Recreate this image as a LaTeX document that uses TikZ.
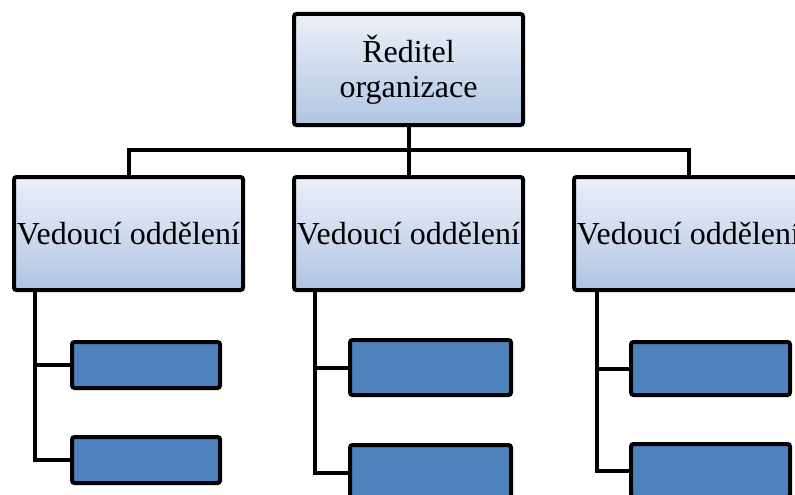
\documentclass[tikz,border=0pt]{standalone}
\usepackage{fontspec}
\setmainfont{Liberation Serif}
\definecolor{headtop}{RGB}{236,240,248}
\definecolor{headbot}{RGB}{176,197,226}
\definecolor{leafblue}{RGB}{79,129,189}
\tikzset{
  headbox/.style={draw=black, line width=4pt, rounded corners=2.5pt,
    top color=headtop, bottom color=headbot, inner sep=0pt,
    minimum width=229pt, align=center,
    font=\fontsize{32}{35}\selectfont},
  leafbox/.style={draw=black, line width=4pt, rounded corners=2.5pt,
    fill=leafblue, inner sep=0pt},
  link/.style={draw=black, line width=4pt}
}
\begin{document}
\begin{tikzpicture}[x=1pt, y=-1pt]
  \useasboundingbox (0,0) rectangle (795,495);
  \clip (0,0) rectangle (795,495);
  % director and department heads
  \node[headbox, minimum height=111pt] (top) at (408.5,69.5) {Ředitel\\organizace};
  \node[headbox, minimum height=113pt] (m1) at (128.5,233.5) {Vedoucí oddělení};
  \node[headbox, minimum height=113pt] (m2) at (408.5,233.5) {Vedoucí oddělení};
  \node[headbox, minimum height=113pt] (m3) at (688.5,233.5) {Vedoucí oddělení};
  % staff boxes
  \node[leafbox, minimum width=148pt, minimum height=46pt] (a1) at (146,365) {};
  \node[leafbox, minimum width=148pt, minimum height=46pt] (a2) at (146,460) {};
  \node[leafbox, minimum width=161pt, minimum height=55pt] (b1) at (430.5,367.5) {};
  \node[leafbox, minimum width=161pt, minimum height=55pt] (b2) at (430.5,472.5) {};
  \node[leafbox, minimum width=159pt, minimum height=53pt] (c1) at (710.5,368.5) {};
  \node[leafbox, minimum width=159pt, minimum height=53pt] (c2) at (710.5,470.5) {};
  % bus below the director
  \coordinate (bus) at (408.5,150);
  \draw[link] (top.south) -- (m2.north);
  \draw[link] (m1.north) |- (bus) -| (m3.north);
  % spines of each department
  \coordinate (sa) at (35,292);
  \coordinate (sb) at (315,292);
  \coordinate (sc) at (597,292);
  \draw[link] (sa) |- (a2.west);
  \draw[link] (a1.west) -- (a1.west -| sa);
  \draw[link] (sb) |- (b2.west);
  \draw[link] (b1.west) -- (b1.west -| sb);
  \draw[link] (sc) |- (c2.west);
  \draw[link] (c1.west) -- (c1.west -| sc);
\end{tikzpicture}
\end{document}
